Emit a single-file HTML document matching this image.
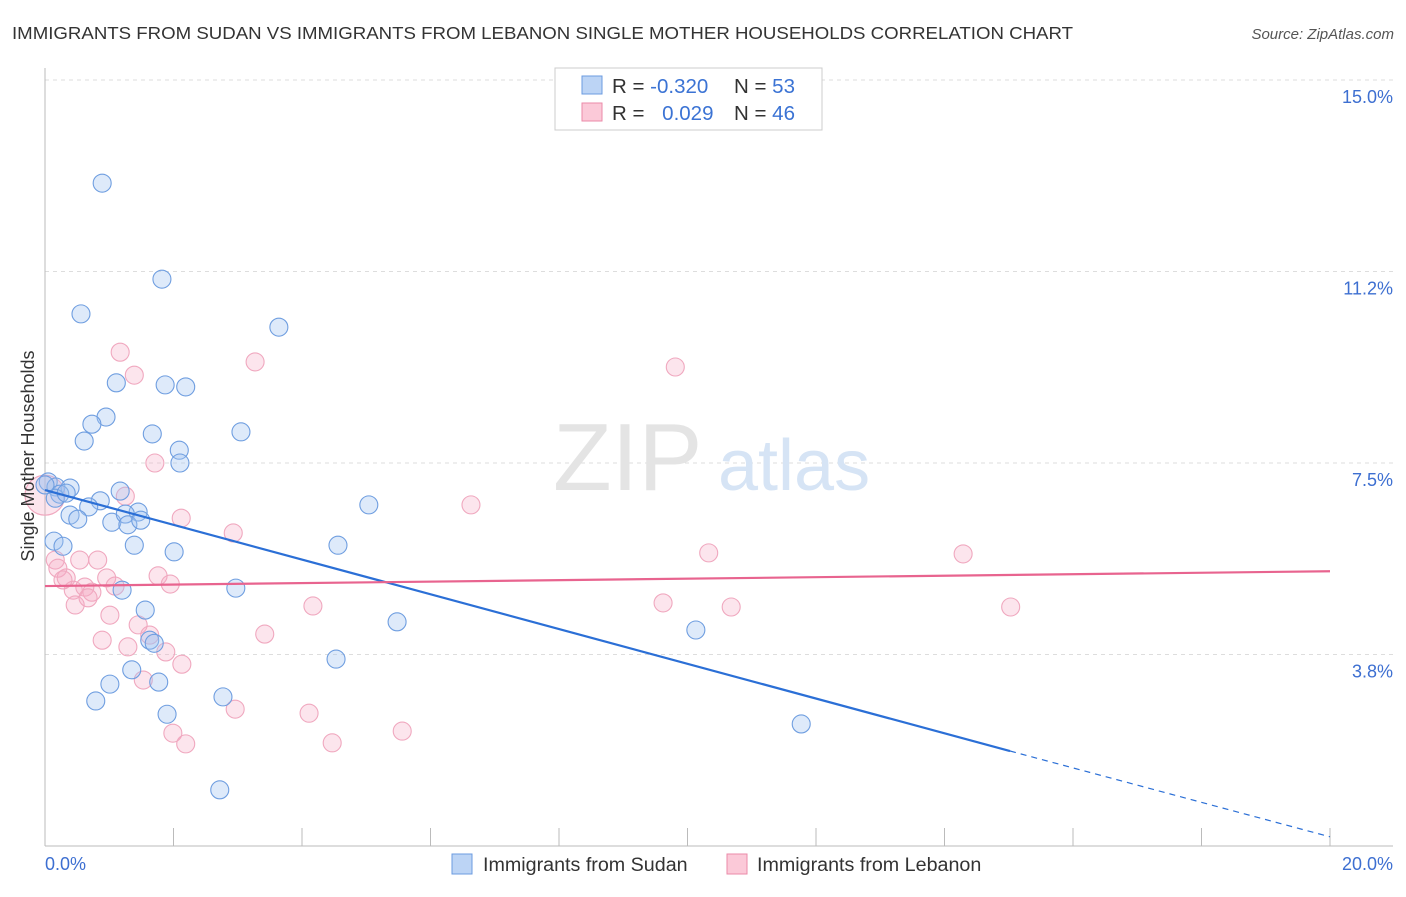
<!DOCTYPE html>
<html><head><meta charset="utf-8"><style>
body{margin:0;background:#fff;font-family:"Liberation Sans",sans-serif}
svg text{font-family:"Liberation Sans",sans-serif}
</style></head><body>
<svg id="chart" width="1406" height="892" xmlns="http://www.w3.org/2000/svg">
<text x="12" y="39" font-size="17.5" fill="#333" textLength="1061" lengthAdjust="spacingAndGlyphs">IMMIGRANTS FROM SUDAN VS IMMIGRANTS FROM LEBANON SINGLE MOTHER HOUSEHOLDS CORRELATION CHART</text>
<text x="1394" y="39" font-size="15" fill="#555" text-anchor="end" font-style="italic">Source: ZipAtlas.com</text>
<g id="grid"></g>
<text x="553" y="490" font-size="96" fill="#e4e4e4" font-family="Liberation Serif">ZIP</text>
<text x="718" y="490" font-size="72" fill="#d6e4f5">atlas</text>
<g id="axes"></g>
<g id="points"></g>
<g id="trends"></g>
<text transform="translate(34,456) rotate(-90)" font-size="18" fill="#333" text-anchor="middle">Single Mother Households</text>
<text x="45" y="870" font-size="18" fill="#3d6fd1">0.0%</text>
<text x="1393" y="870" font-size="18" fill="#3d6fd1" text-anchor="end">20.0%</text>
<g>
<rect x="555" y="68" width="267" height="62" fill="#fff" stroke="#ccc"/>
<rect x="582" y="76" width="20" height="18" fill="#bcd4f5" stroke="#6b9be0"/>
<rect x="582" y="103" width="20" height="18" fill="#fbc9d8" stroke="#eb8aa8"/>
<text x="612" y="93" font-size="20.5" fill="#333">R = <tspan fill="#3b73d4">-0.320</tspan></text>
<text x="734" y="93" font-size="20.5" fill="#333">N = <tspan fill="#3b73d4">53</tspan></text>
<text x="612" y="120" font-size="20.5" fill="#333">R = <tspan fill="#3b73d4" dx="12">0.029</tspan></text>
<text x="734" y="120" font-size="20.5" fill="#333">N = <tspan fill="#3b73d4">46</tspan></text>
</g>
<g>
<rect x="452" y="854" width="20" height="20" fill="#bcd4f5" stroke="#6b9be0"/>
<text x="483" y="871" font-size="19.7" fill="#333">Immigrants from Sudan</text>
</g>
<g>
<rect x="727" y="854" width="20" height="20" fill="#fbc9d8" stroke="#eb8aa8"/>
<text x="757" y="871" font-size="19.7" fill="#333">Immigrants from Lebanon</text>
</g>
</svg>
<script>
const sudanX=[0.89,1.82,0.56,3.64,1.11,1.87,2.19,0.95,0.73,0.61,1.67,3.05,2.09,2.10,0.05,0.17,0.39,0.23,0.86,0.68,1.17,5.04,1.45,0.39,0.51,1.04,1.25,1.29,1.49,0.14,0.28,1.39,2.01,4.56,2.97,1.20,5.48,1.56,1.63,1.70,10.13,4.53,1.35,1.01,1.77,0.79,2.77,1.90,11.77,2.72,0.16,0.33,0.0];
const sudanY=[12.98,11.10,10.42,10.16,9.07,9.03,8.99,8.40,8.26,7.93,8.07,8.11,7.75,7.50,7.13,7.03,7.01,6.89,6.76,6.64,6.95,6.68,6.54,6.48,6.40,6.34,6.50,6.29,6.38,5.97,5.87,5.89,5.76,5.89,5.05,5.01,4.39,4.62,4.03,3.97,4.23,3.66,3.45,3.17,3.21,2.84,2.92,2.58,2.39,1.10,6.81,6.91,7.07];
const lebX=[0,0.16,0.20,0.33,0.44,0.54,0.82,0.62,0.73,0.47,0.67,0.96,1.09,1.01,1.17,1.39,1.25,1.71,2.12,2.93,1.76,1.95,0.89,1.29,1.45,1.63,1.88,2.13,1.53,3.42,1.99,2.19,2.96,4.11,4.47,5.56,4.17,6.63,9.81,3.27,10.33,9.62,10.68,14.29,15.03,0.28];
const lebY=[6.87,5.60,5.44,5.25,5.01,5.60,5.60,5.07,4.97,4.72,4.86,5.25,5.09,4.52,9.67,9.22,6.85,7.50,6.42,6.13,5.29,5.13,4.03,3.90,4.33,4.13,3.80,3.56,3.25,4.15,2.21,2.00,2.68,2.60,2.02,2.25,4.70,6.68,9.38,9.48,5.74,4.76,4.68,5.72,4.68,5.21];
const yTicks=[3.75,7.5,11.25,15];
const yTickLabels=["3.8%","7.5%","11.2%","15.0%"];
const xTicks=[0,2,4,6,8,10,12,14,16,18,20];
const sudanTrend=[[0,6.97],[15.02,1.86],[20,0.18]];
const lebTrend=[[0,5.09],[20,5.38]];
const NS="http://www.w3.org/2000/svg";
const sx=v=>45+v/20*1285, sy=v=>846-v/15*766;
function mk(parent,tag,attrs){const e=document.createElementNS(NS,tag);for(const k in attrs)e.setAttribute(k,attrs[k]);document.getElementById(parent).appendChild(e);return e;}
yTicks.forEach((t,i)=>{
 const l=mk('grid','line',{x1:45,x2:1393,y1:sy(t),y2:sy(t),stroke:'#ddd','stroke-dasharray':'4,4'});
 
 
 const tx=mk('grid','text',{x:1393,y:sy(t)+23,'font-size':18,fill:'#3d6fd1','text-anchor':'end'});
 tx.textContent=yTickLabels[i];
 
 
});
const ax=mk('axes','line',{x1:45,x2:45,y1:68,y2:846,stroke:'#bbb'});


const bx=mk('axes','line',{x1:45,x2:1393,y1:846,y2:846,stroke:'#bbb'});


xTicks.forEach(t=>{
 const l=mk('axes','line',{x1:sx(t),x2:sx(t),y1:828,y2:846,stroke:'#bbb'});
 
 
});
lebX.forEach((x,i)=>{
 const c=mk('points','circle',{cx:sx(x),cy:sy(lebY[i]),r:i===0?20:9,fill:'rgba(246,170,195,0.3)',stroke:'#f0a8bf','stroke-width':1.1});
 
 
});
sudanX.forEach((x,i)=>{
 const c=mk('points','circle',{cx:sx(x),cy:sy(sudanY[i]),r:9,fill:'rgba(160,196,240,0.35)',stroke:'#6f9ee0','stroke-width':1.1});
 
 
});
const s1=mk('trends','line',{x1:sx(sudanTrend[0][0]),y1:sy(sudanTrend[0][1]),x2:sx(sudanTrend[1][0]),y2:sy(sudanTrend[1][1]),stroke:'#2b6fd6','stroke-width':2.2});


const s2=mk('trends','line',{x1:sx(sudanTrend[1][0]),y1:sy(sudanTrend[1][1]),x2:sx(sudanTrend[2][0]),y2:sy(sudanTrend[2][1]),stroke:'#2b6fd6','stroke-width':1.2,'stroke-dasharray':'6,5'});


const p1=mk('trends','line',{x1:sx(lebTrend[0][0]),y1:sy(lebTrend[0][1]),x2:sx(lebTrend[1][0]),y2:sy(lebTrend[1][1]),stroke:'#e8648f','stroke-width':2.2});


</script>
</body></html>
